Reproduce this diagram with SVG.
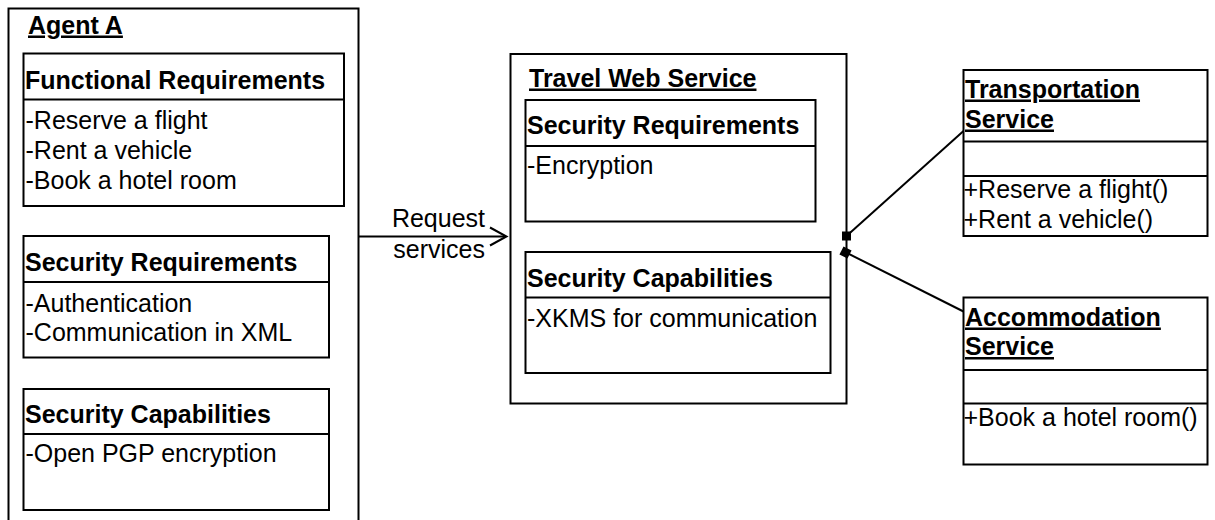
<svg xmlns="http://www.w3.org/2000/svg" width="1215" height="520" viewBox="0 0 1215 520">
<style>
  .box { fill: #fff; stroke: #000; stroke-width: 2; }
  .div { stroke: #000; stroke-width: 2; fill: none; }
  .con { stroke: #000; stroke-width: 2; fill: none; }
  text { font-family: "Liberation Sans", Arial, sans-serif; font-size: 25px; fill: #000; }
  .b { font-weight: bold; }
  .u { text-decoration: underline; }
</style>
<rect width="1215" height="520" fill="#fff"/>

<g id="agentA">
  <rect class="box" x="8.5" y="8.5" width="350" height="540"/>
  <text class="b u" x="28" y="33.5">Agent A</text>
</g>

<g id="agentA-functional">
  <rect class="box" x="23.5" y="53.5" width="320.5" height="152.5"/>
  <line class="div" x1="23.5" y1="99.5" x2="344" y2="99.5"/>
  <text class="b" x="25" y="89">Functional Requirements</text>
  <text x="25.5" y="129">-Reserve a flight</text>
  <text x="25.5" y="159">-Rent a vehicle</text>
  <text x="25.5" y="189">-Book a hotel room</text>
</g>

<g id="agentA-secreq">
  <rect class="box" x="23.5" y="236" width="305.5" height="121.5"/>
  <line class="div" x1="23.5" y1="282" x2="329" y2="282"/>
  <text class="b" x="25" y="271">Security Requirements</text>
  <text x="25.5" y="311.5">-Authentication</text>
  <text x="25.5" y="341">-Communication in XML</text>
</g>

<g id="agentA-seccap">
  <rect class="box" x="23.5" y="389" width="305.5" height="121"/>
  <line class="div" x1="23.5" y1="434" x2="329" y2="434"/>
  <text class="b" x="25" y="423">Security Capabilities</text>
  <text x="25.5" y="462">-Open PGP encryption</text>
</g>

<g id="travel">
  <rect class="box" x="510.5" y="54" width="336" height="349.5"/>
  <text class="b u" x="529" y="86.5">Travel Web Service</text>
</g>

<g id="travel-secreq">
  <rect class="box" x="525.5" y="100" width="290" height="121.5"/>
  <line class="div" x1="525.5" y1="146" x2="815.5" y2="146"/>
  <text class="b" x="527" y="134">Security Requirements</text>
  <text x="527" y="174">-Encryption</text>
</g>

<g id="travel-seccap">
  <rect class="box" x="525.5" y="252" width="305" height="121"/>
  <line class="div" x1="525.5" y1="297.5" x2="830.5" y2="297.5"/>
  <text class="b" x="527" y="286.5">Security Capabilities</text>
  <text x="527" y="326.5">-XKMS for communication</text>
</g>

<g id="transportation">
  <rect class="box" x="963.5" y="70" width="244" height="166"/>
  <line class="div" x1="963.5" y1="141.5" x2="1207.5" y2="141.5"/>
  <line class="div" x1="963.5" y1="176" x2="1207.5" y2="176"/>
  <text class="b u" x="965" y="97.5">Transportation</text>
  <text class="b u" x="965" y="127.5">Service</text>
  <text x="963.5" y="197.5">+Reserve a flight()</text>
  <text x="963.5" y="227.5">+Rent a vehicle()</text>
</g>

<g id="accommodation">
  <rect class="box" x="963.5" y="297.5" width="244" height="167"/>
  <line class="div" x1="963.5" y1="370" x2="1207.5" y2="370"/>
  <line class="div" x1="963.5" y1="403.5" x2="1207.5" y2="403.5"/>
  <text class="b u" x="965" y="325.5">Accommodation</text>
  <text class="b u" x="965" y="355">Service</text>
  <text x="963.5" y="425.5">+Book a hotel room()</text>
</g>

<g id="connectors">
  <line class="con" x1="358" y1="236.5" x2="506" y2="236.5"/>
  <polyline class="con" points="490,227.5 506.5,236.5 490,245.5"/>
  <text x="485" y="226.5" text-anchor="end">Request</text>
  <text x="485" y="258" text-anchor="end">services</text>
  <line class="con" x1="846.5" y1="236" x2="963.5" y2="131"/>
  <line class="con" x1="846" y1="252.5" x2="963.5" y2="311.5"/>
  <rect x="842" y="231.5" width="9" height="9" fill="#000"/>
  <rect x="841" y="248" width="9" height="9" fill="#000" transform="rotate(27 845.5 252.5)"/>
</g>
</svg>
